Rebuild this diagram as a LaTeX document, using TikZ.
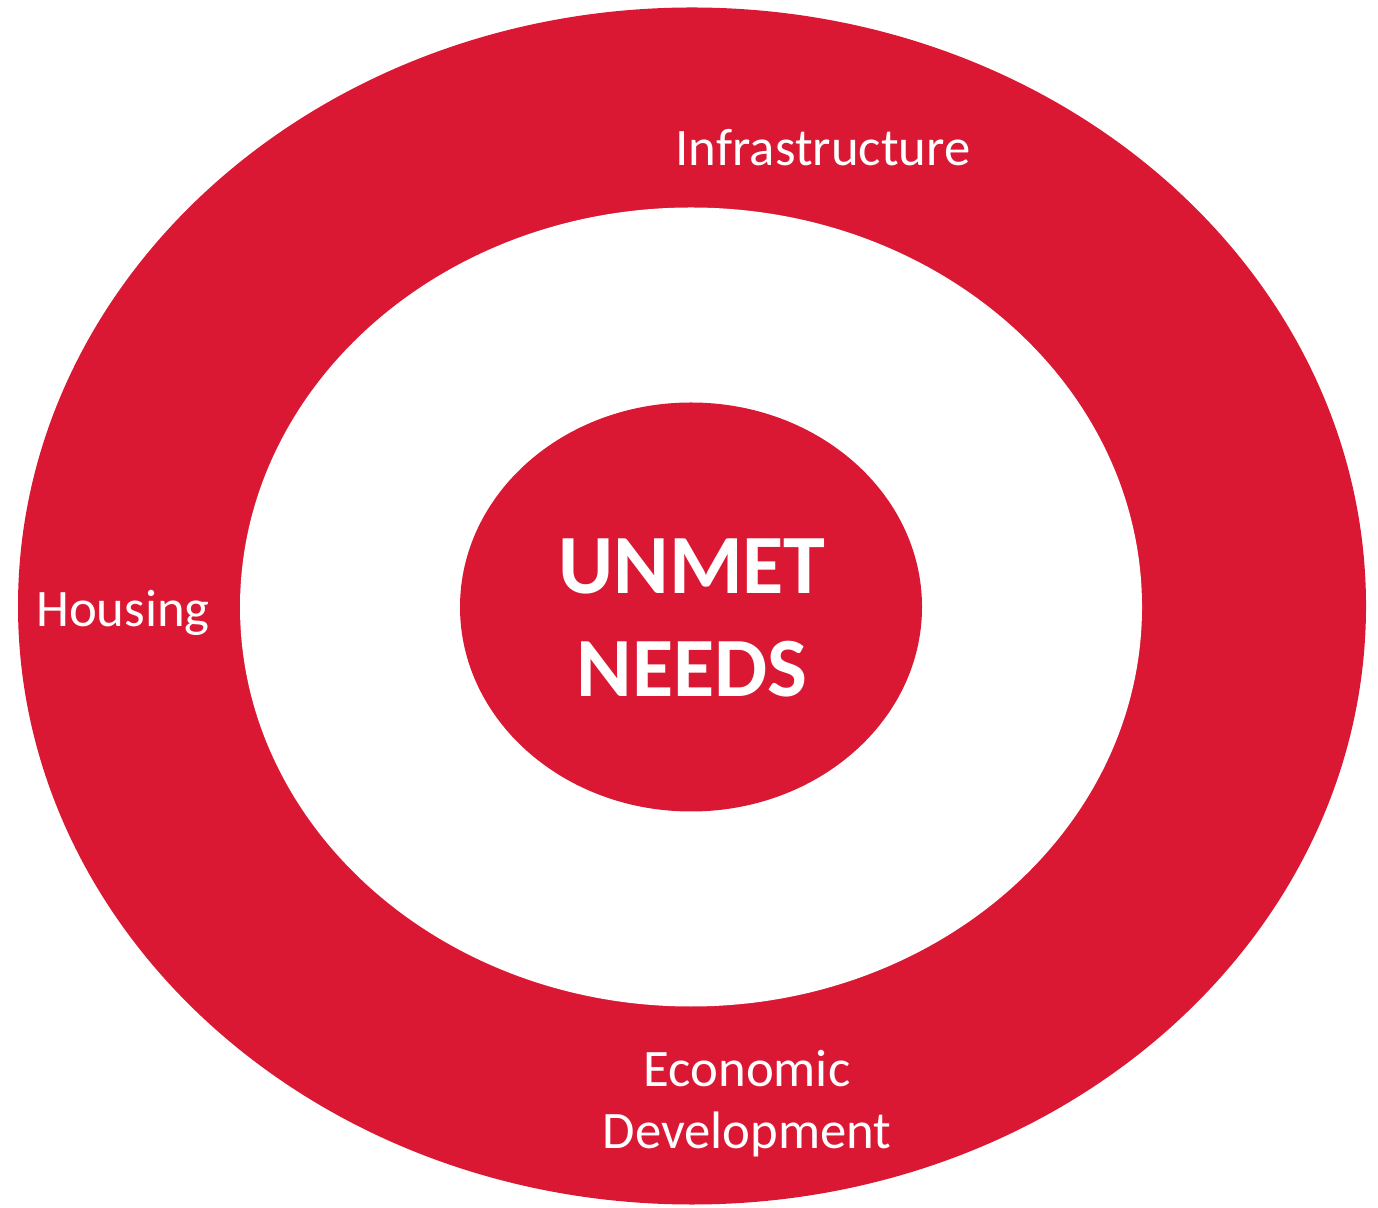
\documentclass[tikz,border=0pt]{standalone}
\usepackage{fontspec}
\setmainfont{Carlito}
\usepackage{tikz}
\usetikzlibrary{positioning}
\definecolor{needred}{RGB}{219, 24, 52}

\begin{document}
\begin{tikzpicture}
  \useasboundingbox (0, 0) rectangle (13.78, 12.07);

  % Rings
  \fill[needred] (6.92, 6.01) ellipse [x radius=6.74, y radius=5.985];
  \fill[white] (6.91, 6.00) ellipse [x radius=4.51, y radius=3.995];
  \fill[needred] (6.91, 6.00) ellipse [x radius=2.31, y radius=2.045];

  % Labels
  \node[text=white, font=\fontsize{15}{18}\selectfont] (infra) at (8.23, 10.59) {Infrastructure};
  \node[text=white, font=\fontsize{15}{18}\selectfont] (housing) at (1.23, 5.94) {Housing};
  \node[text=white, font=\fontsize{15}{17.6}\selectfont, align=center] (econ) at (7.47, 1.03) {Economic\\Development};
  \node[text=white, font=\fontsize{24}{29.3}\selectfont\bfseries, align=center] (unmet) at (6.92, 5.89) {UNMET\\NEEDS};
\end{tikzpicture}
\end{document}
